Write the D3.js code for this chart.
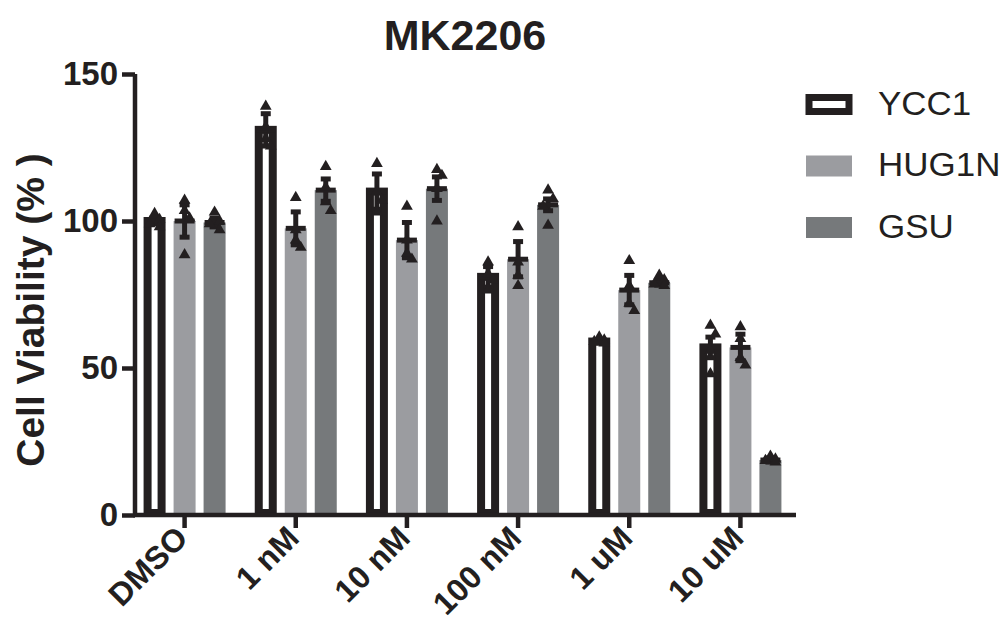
<!DOCTYPE html>
<html>
<head>
<meta charset="utf-8">
<script src="https://cdn.jsdelivr.net/npm/d3@7"></script>
<style>
  body { margin: 0; background: #fff; }
  svg { display: block; }
  text { font-family: "Liberation Sans", Arial, sans-serif; fill: #231f20; }
</style>
</head>
<body>
<svg id="chart" width="1004" height="637"></svg>
<script>
const title = "MK2206";
const yTitle = "Cell Viability (% )";
const categories = ["DMSO", "1 nM", "10 nM", "100 nM", "1 uM", "10 uM"];
const seriesNames = ["YCC1", "HUG1N", "GSU"];
const yTicks = [0, 50, 100, 150];

const meanYCC1 = [100, 131, 110, 81, 59, 57];
const meanHUG1N = [100, 97.5, 93.5, 87, 76.5, 57];
const meanGSU = [99.5, 110.5, 111, 105.5, 79, 18.7];

const semYCC1 = [1, 5.5, 6, 3.5, 0.5, 3.5];
const semHUG1N = [5.5, 5.6, 6, 6, 5, 4.5];
const semGSU = [1.5, 3.8, 4, 2, 0.8, 0.7];

const ptsYCC1 = [[102.5, 100.5, 99, 98], [139, 132, 128, 125.5], [119.5, 110, 107, 103], [86, 82, 80, 76.5], [60.5, 59.5, 59, 58.5], [64.5, 61.5, 56, 48]];
const ptsHUG1N = [[107, 103.5, 101, 88.5], [108, 97, 93.5, 91], [105, 93.5, 89, 87], [98, 86, 81.5, 78], [86.5, 78, 72, 69.5], [64, 60, 53.5, 51]];
const ptsGSU = [[103, 100, 99, 97], [118.5, 111.5, 106.5, 103.5], [117.5, 115.5, 111, 100], [110.5, 107.5, 105, 98.5], [81.5, 80, 78.5, 78], [20, 19, 18.5, 18]];

const series = [
  { name: "YCC1", mean: meanYCC1, sem: semYCC1, pts: ptsYCC1, fill: "#ffffff", stroke: "#231f20", outline: true },
  { name: "HUG1N", mean: meanHUG1N, sem: semHUG1N, pts: ptsHUG1N, fill: "#9b9ca0", stroke: "none", outline: false },
  { name: "GSU", mean: meanGSU, sem: semGSU, pts: ptsGSU, fill: "#76797b", stroke: "none", outline: false }
];

const ink = "#231f20";
const svg = d3.select("#chart");

const x = d3.scaleBand().domain(categories).range([129, 796]).paddingInner(0).paddingOuter(0);
const xs = d3.scaleBand().domain(seriesNames).range([-45, 45]).padding(0);
const y = d3.scaleLinear().domain([0, 150]).range([515, 74]);

const barW = 22;

// bars
series.forEach(s => {
  const g = svg.append("g");
  categories.forEach((c, i) => {
    const cx = x(c) + x.bandwidth() / 2 + xs(s.name) + xs.bandwidth() / 2;
    if (s.outline) {
      const sw = 8;
      g.append("rect")
        .attr("x", cx - barW / 2 + sw / 2)
        .attr("width", barW - sw)
        .attr("y", y(s.mean[i]))
        .attr("height", y(0) - y(s.mean[i]) - sw / 2 + 2)
        .attr("fill", s.fill).attr("stroke", s.stroke).attr("stroke-width", sw);
    } else {
      g.append("rect")
        .attr("x", cx - barW / 2)
        .attr("width", barW)
        .attr("y", y(s.mean[i]))
        .attr("height", y(0) - y(s.mean[i]))
        .attr("fill", s.fill);
    }
  });
});

// error bars
series.forEach(s => {
  const g = svg.append("g").attr("stroke", ink).attr("stroke-width", 5).attr("fill", "none");
  categories.forEach((c, i) => {
    const cx = x(c) + x.bandwidth() / 2 + xs(s.name) + xs.bandwidth() / 2;
    const m = s.mean[i], e = s.sem[i];
    g.append("line").attr("x1", cx).attr("x2", cx).attr("y1", y(m + e)).attr("y2", y(m - e));
    g.append("line").attr("x1", cx - 5).attr("x2", cx + 5).attr("y1", y(m + e)).attr("y2", y(m + e));
    g.append("line").attr("x1", cx - 5).attr("x2", cx + 5).attr("y1", y(m - e)).attr("y2", y(m - e));
    g.append("line").attr("x1", cx - 10).attr("x2", cx + 10).attr("y1", y(m)).attr("y2", y(m));
  });
});

// points (triangles), spread horizontally when crowded
const tri = d3.symbol().type(d3.symbolTriangle).size(60);
series.forEach(s => {
  const g = svg.append("g").attr("fill", ink);
  categories.forEach((c, i) => {
    const cx = x(c) + x.bandwidth() / 2 + xs(s.name) + xs.bandwidth() / 2;
    const sorted = s.pts[i].slice().sort((a, b) => b - a);
    let side = 0;
    sorted.forEach((v, k) => {
      let dx = 0;
      if (k > 0 && Math.abs(sorted[k - 1] - v) < 3.5) {
        side = side === 0 ? 1 : -side;
        dx = side * 5;
      } else side = 0;
      g.append("path").attr("d", tri).attr("transform", `translate(${cx + dx},${y(v)})`);
    });
  });
});

// axes
const yAxis = d3.axisLeft(y).tickValues(yTicks).tickSize(13).tickSizeOuter(0).tickPadding(4);
const gy = svg.append("g").attr("transform", "translate(135,0)").call(yAxis);
gy.select(".domain").attr("stroke", ink).attr("stroke-width", 4.5).attr("d", `M0,${y(150)}V${y(0) + 2}`);
gy.selectAll(".tick line").attr("stroke", ink).attr("stroke-width", 4.5);
gy.selectAll(".tick text").attr("font-size", 33).attr("font-weight", "bold")
  .attr("font-family", "Liberation Sans, Arial, sans-serif").attr("fill", ink);

const xAxis = d3.axisBottom(x).tickSize(13).tickSizeOuter(0).tickPadding(8);
const gx = svg.append("g").attr("transform", `translate(0,${y(0)})`).call(xAxis);
gx.select(".domain").attr("stroke", ink).attr("stroke-width", 4.5).attr("d", "M133,0H796");
gx.selectAll(".tick line").attr("stroke", ink).attr("stroke-width", 4.5);
gx.selectAll(".tick text")
  .attr("font-size", 32).attr("font-weight", "bold")
  .attr("font-family", "Liberation Sans, Arial, sans-serif").attr("fill", ink)
  .attr("text-anchor", "end").attr("dy", null)
  .attr("transform", "translate(5,25) rotate(-45)")
  .attr("y", 0).attr("x", 0);

// title
svg.append("text").attr("x", 465).attr("y", 50).attr("text-anchor", "middle")
  .attr("font-size", 43).attr("font-weight", "bold").text(title);

// y title
svg.append("text").attr("transform", `translate(44,310) rotate(-90)`)
  .attr("text-anchor", "middle").attr("font-size", 39).attr("font-weight", "bold").text(yTitle);

// legend
const lg = svg.append("g");
series.forEach((s, k) => {
  const top = 94 + k * 61.5;
  if (s.outline) {
    lg.append("rect").attr("x", 809).attr("y", top + 3.5).attr("width", 40).attr("height", 14)
      .attr("fill", "#fff").attr("stroke", ink).attr("stroke-width", 7);
  } else {
    lg.append("rect").attr("x", 806).attr("y", top).attr("width", 46).attr("height", 21).attr("fill", s.fill);
  }
  lg.append("text").attr("x", 878).attr("y", top + 21).attr("font-size", 33)
    .attr("transform", `translate(878,0) scale(1.06,1) translate(-878,0)`)
    .text(s.name);
});
</script>
</body>
</html>
